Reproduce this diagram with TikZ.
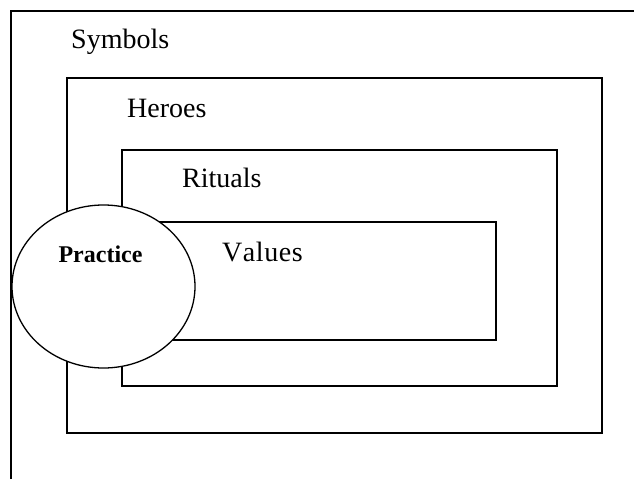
\documentclass[tikz,border=0pt]{standalone}
\usepackage{fontspec}
\setmainfont{Liberation Serif}
\usetikzlibrary{shapes.geometric}
\begin{document}
\begin{tikzpicture}[x=1pt,y=-1pt,
  layer/.style={draw=black, line width=1.6pt, fill=white, rectangle, inner sep=0pt, minimum width=#1},
  lbl/.style={anchor=base west, inner sep=0pt, font=\fontsize{28}{30}\selectfont},
  practicering/.style={draw=black, line width=1.3pt, fill=white, ellipse, inner sep=0pt}
]
\useasboundingbox (0,0) rectangle (634,479);
% outermost layer: only its top and left edges fall inside the frame
\coordinate (outerTop) at (634,11);
\coordinate (outerCorner) at (11,11);
\coordinate (outerBottom) at (11,479);
\draw[line width=1.6pt] (outerBottom) -- (outerCorner) -- (outerTop);
\node[lbl] (symbols) at (71,48.5) {Symbols};
% nested layers
\node[layer=535pt, minimum height=355pt] (heroesbox) at (334.5,255.5) {};
\node[lbl] (heroes) at (127,117) {Heroes};
\node[layer=435pt, minimum height=236pt] (ritualsbox) at (339.5,268) {};
\node[lbl] (rituals) at (182,187) {Rituals};
\node[layer=336pt, minimum height=118pt] (valuesbox) at (328,281) {};
\node[lbl] (values) at (222,261.5) {\addfontfeature{Kerning=Off,LetterSpace=2}Values};
% practice cuts across the layers
\node[practicering, minimum width=183pt, minimum height=163pt] (practice) at (103.5,286.5) {};
\node[anchor=base, inner sep=0pt, font=\fontsize{24}{26}\selectfont\bfseries] (practicelbl) at (100.5,262) {Practice};
\end{tikzpicture}
\end{document}
